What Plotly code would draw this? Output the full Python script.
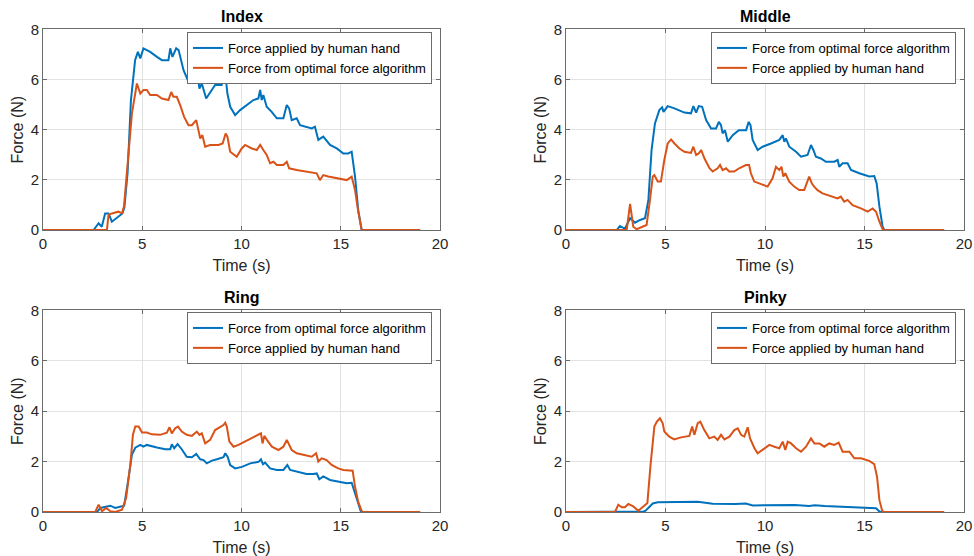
import plotly.graph_objects as go

# ---------------- data (time s, force N) ----------------
index_human = [(0,0),(2.55,0),(2.8,0.27),(2.96,0.13),(3.13,0.66),(3.3,0.66),(3.47,0.33),(3.8,0.53),(4.0,0.66),(4.1,0.9),
    (4.26,2.26),(4.43,5.18),(4.64,6.77),(4.78,7.1),(4.9,6.84),(5.06,7.24),(5.4,7.1),(5.74,6.9),(5.99,6.77),(6.32,6.77),
    (6.41,7.24),(6.52,6.9),(6.71,7.24),(6.83,7.17),(7.08,6.37),(7.33,5.91),(7.5,5.91),(7.67,6.18),(7.78,6.24),(7.88,5.64),
    (8.0,5.84),(8.22,5.24),(8.42,5.5),(8.67,5.78),(9.0,5.78),(9.12,6.24),(9.2,6.1),(9.29,5.44),(9.43,4.91),(9.68,4.58),
    (9.93,4.78),(10.27,4.98),(10.6,5.18),(10.85,5.24),(10.94,5.58),(11.02,5.18),(11.1,5.38),(11.27,4.91),(11.52,4.71),
    (11.78,4.45),(12.11,4.45),(12.28,4.98),(12.4,4.85),(12.53,4.38),(12.78,4.45),(12.95,4.18),(13.54,4.05),(13.7,4.12),
    (13.87,3.59),(14.12,3.72),(14.46,3.39),(14.8,3.25),(15.13,3.05),(15.38,3.05),(15.55,3.12),(15.72,2.13),(15.88,0.8),
    (16.05,0.0),(19,0)]
index_algo = [(0,0),(3.22,0),(3.3,0.6),(3.47,0.66),(3.8,0.73),(3.97,0.66),(4.08,0.93),(4.26,2.52),(4.48,4.65),(4.73,5.84),
    (4.9,5.44),(5.06,5.58),(5.23,5.58),(5.4,5.38),(5.74,5.38),(5.99,5.24),(6.32,5.18),(6.46,5.5),(6.57,5.31),(6.74,5.31),
    (6.91,4.98),(7.11,4.51),(7.33,4.18),(7.5,4.18),(7.72,4.38),(7.83,3.98),(7.92,3.65),(8.03,3.78),(8.17,3.32),(8.42,3.39),
    (8.84,3.39),(9.05,3.45),(9.2,3.85),(9.29,3.72),(9.43,3.12),(9.76,2.92),(10.01,3.25),(10.18,3.39),(10.52,3.25),
    (10.77,3.19),(10.94,3.39),(11.1,3.19),(11.27,2.99),(11.44,2.66),(11.61,2.72),(11.78,2.59),(12.11,2.59),(12.28,2.72),
    (12.4,2.46),(12.78,2.39),(13.28,2.33),(13.79,2.26),(13.95,1.99),(14.12,2.19),(14.37,2.13),(14.8,2.06),(15.3,1.99),
    (15.55,2.13),(15.72,1.59),(15.88,0.73),(16.05,0.03),(16.1,0),(19,0)]

middle_algo = [(0,0),(2.55,0),(2.71,0.16),(2.96,0.05),(3.22,0.47),(3.47,0.29),(3.72,0.4),(3.97,0.47),(4.14,1.2),(4.3,3.19),
    (4.47,4.25),(4.69,4.78),(4.83,4.89),(4.9,4.71),(5.11,4.94),(5.45,4.85),(5.95,4.68),(6.28,4.65),(6.4,4.94),(6.54,4.68),
    (6.67,4.94),(6.84,4.91),(7.04,4.38),(7.29,4.05),(7.54,4.05),(7.68,4.31),(7.79,4.18),(7.87,3.85),(7.99,3.98),(8.13,3.52),
    (8.38,3.78),(8.68,3.98),(9.05,3.98),(9.18,4.31),(9.27,4.18),(9.38,3.59),(9.63,3.19),(9.88,3.32),(10.3,3.45),(10.72,3.59),
    (10.89,3.78),(10.97,3.52),(11.05,3.65),(11.22,3.32),(11.56,3.12),(11.81,2.92),(12.14,2.99),(12.31,3.39),(12.43,3.19),
    (12.56,2.92),(12.81,2.85),(13.06,2.72),(13.48,2.72),(13.65,2.79),(13.73,2.52),(13.9,2.66),(14.15,2.66),(14.32,2.39),
    (14.74,2.26),(15.24,2.13),(15.49,2.15),(15.61,1.86),(15.75,0.93),(15.91,0.13),(16.0,0),(19,0)]
middle_human = [(0,0),(3.05,0),(3.22,1.04),(3.38,0.13),(3.55,0.03),(3.89,0.13),(4.05,0.2),(4.22,1.2),(4.36,2.13),(4.44,2.19),
    (4.61,1.93),(4.77,1.93),(4.94,2.79),(5.11,3.45),(5.28,3.61),(5.45,3.45),(5.7,3.25),(5.95,3.12),(6.28,3.07),(6.4,3.32),
    (6.54,2.99),(6.67,3.05),(6.79,3.19),(6.96,2.85),(7.21,2.46),(7.37,2.33),(7.62,2.46),(7.74,2.59),(7.87,2.39),(8.04,2.46),
    (8.2,2.33),(8.45,2.33),(8.7,2.46),(9.04,2.59),(9.2,2.59),(9.29,2.26),(9.46,1.93),(9.71,1.86),(9.96,1.79),(10.13,1.73),
    (10.38,2.06),(10.55,2.52),(10.72,2.39),(10.83,2.52),(10.92,2.13),(11.02,2.26),(11.22,1.93),(11.47,1.73),(11.72,1.59),
    (11.97,1.59),(12.22,2.13),(12.35,1.86),(12.47,1.73),(12.64,1.59),(12.89,1.46),(13.39,1.33),(13.65,1.26),(13.81,1.33),
    (13.98,1.13),(14.15,1.2),(14.4,0.99),(14.82,0.86),(15.16,0.73),(15.41,0.86),(15.58,0.73),(15.75,0.33),(15.91,0.03),
    (16.0,0),(19,0)]

ring_algo = [(0,0),(2.72,0),(2.89,0.16),(3.14,0.22),(3.39,0.25),(3.64,0.16),(3.89,0.22),(4.09,0.25),(4.31,1.35),(4.48,2.28),
    (4.65,2.55),(4.73,2.59),(4.9,2.66),(5.06,2.59),(5.23,2.66),(5.74,2.56),(6.16,2.49),(6.41,2.49),(6.49,2.69),(6.61,2.53),
    (6.78,2.69),(6.99,2.49),(7.24,2.19),(7.5,2.17),(7.72,2.3),(7.92,2.09),(8.09,2.06),(8.25,1.93),(8.51,2.04),(8.76,2.09),
    (9.09,2.17),(9.18,2.33),(9.3,2.19),(9.43,1.86),(9.68,1.73),(10.02,1.79),(10.44,1.93),(10.86,1.99),(10.98,2.09),
    (11.08,1.9),(11.19,1.96),(11.44,1.73),(11.78,1.67),(12.11,1.67),(12.31,1.86),(12.45,1.67),(12.78,1.6),(13.28,1.51),
    (13.62,1.51),(13.79,1.53),(13.92,1.3),(14.12,1.41),(14.46,1.27),(14.96,1.2),(15.3,1.14),(15.55,1.16),(15.72,0.74),
    (15.88,0.28),(16.0,0.05),(16.05,0),(19,0)]
ring_human = [(0,0),(2.63,0),(2.8,0.29),(2.97,0.03),(3.19,0.16),(3.39,0.03),(3.64,0),(3.98,0.09),(4.19,0.56),(4.4,1.88),
    (4.53,3.07),(4.65,3.39),(4.82,3.39),(4.99,3.15),(5.23,3.15),(5.48,3.08),(5.9,3.06),(6.24,3.15),(6.37,3.36),(6.49,3.12),
    (6.66,3.32),(6.8,3.39),(6.99,3.19),(7.24,3.06),(7.5,3.02),(7.75,3.19),(7.88,3.06),(8.0,3.12),(8.17,2.72),(8.42,2.86),
    (8.67,3.25),(8.92,3.39),(9.09,3.45),(9.18,3.54),(9.26,3.39),(9.39,2.79),(9.6,2.59),(9.85,2.66),(10.18,2.79),(10.52,2.92),
    (10.86,3.06),(10.98,3.12),(11.06,2.72),(11.15,3.02),(11.28,2.86),(11.53,2.59),(11.86,2.46),(12.11,2.59),(12.28,2.86),
    (12.4,2.66),(12.53,2.46),(12.78,2.33),(13.12,2.26),(13.54,2.19),(13.76,2.33),(13.87,2.0),(14.04,2.13),(14.29,2.06),
    (14.54,1.87),(14.87,1.73),(15.13,1.67),(15.46,1.64),(15.6,1.64),(15.72,1.0),(15.88,0.4),(16.05,0.05),(16.1,0),(19,0)]

pinky_algo = [(0,0),(2.5,0),(2.6,0.02),(3.9,0.02),(4.0,0.05),(4.2,0.2),(4.36,0.34),(4.61,0.39),(5.7,0.39),(6.62,0.41),
    (7.0,0.37),(7.37,0.33),(8.5,0.32),(9.04,0.34),(9.38,0.26),(10.0,0.27),(10.72,0.28),(11.5,0.28),(12.22,0.24),(12.5,0.27),
    (13.0,0.24),(14.07,0.2),(15.0,0.18),(15.58,0.15),(15.75,0.02),(15.85,0),(19,0)]
pinky_human = [(0,0),(2.46,0),(2.63,0.29),(2.8,0.19),(2.96,0.19),(3.13,0.32),(3.38,0.22),(3.63,0.05),(3.89,0.22),(4.09,0.36),
    (4.25,1.88),(4.39,2.94),(4.44,3.39),(4.56,3.58),(4.72,3.72),(4.86,3.52),(4.94,3.19),(5.19,2.99),(5.44,2.88),(5.78,2.96),
    (6.2,3.02),(6.34,3.39),(6.45,3.06),(6.62,3.52),(6.75,3.58),(6.95,3.25),(7.2,2.92),(7.45,2.99),(7.62,2.86),(7.79,3.06),
    (7.96,2.88),(8.21,2.99),(8.46,3.25),(8.63,3.32),(8.8,3.06),(8.96,2.99),(9.13,3.36),(9.25,2.92),(9.47,2.53),(9.63,2.33),
    (9.88,2.46),(10.22,2.66),(10.47,2.59),(10.72,2.53),(10.89,2.79),(11.02,2.46),(11.14,2.79),(11.31,2.72),(11.56,2.53),
    (11.81,2.39),(12.06,2.59),(12.31,2.92),(12.48,2.72),(12.73,2.72),(12.98,2.59),(13.23,2.72),(13.48,2.66),(13.7,2.75),
    (13.9,2.39),(14.24,2.39),(14.49,2.13),(14.82,2.13),(15.24,2.03),(15.49,1.9),(15.63,1.4),(15.75,0.47),(15.88,0.08),
    (15.95,0),(19,0)]

panel_titles = ["Index", "Middle", "Ring", "Pinky"]
label_human = "Force applied by human hand"
label_algo = "Force from optimal force algorithm"
x_ticks = [0, 5, 10, 15, 20]
y_ticks = [0, 2, 4, 6, 8]

# ---------------- styling ----------------
BLUE = "#0072BD"
ORANGE = "#D95319"
FONT = "Liberation Sans, Arial, Helvetica, sans-serif"
W, H = 974, 556

xdom = [[43/W, 440/W], [566/W, 964/W]]
ydom = [[1-230/H, 1-29.3/H], [1-512/H, 1-310.3/H]]

panels = [
    [(index_human, label_human, BLUE), (index_algo, label_algo, ORANGE)],
    [(middle_algo, label_algo, BLUE), (middle_human, label_human, ORANGE)],
    [(ring_algo, label_algo, BLUE), (ring_human, label_human, ORANGE)],
    [(pinky_algo, label_algo, BLUE), (pinky_human, label_human, ORANGE)],
]

fig = go.Figure()
layout = dict(
    width=W, height=H, margin=dict(l=0, r=0, t=0, b=0, pad=0, autoexpand=False),
    paper_bgcolor="white", plot_bgcolor="white",
    font=dict(family=FONT, color="#262626"),
    annotations=[],
)

legend_pos = [(432, 32), (956, 32), (432, 312), (956, 312)]

for i, series in enumerate(panels):
    row, col = divmod(i, 2)
    n = "" if i == 0 else str(i + 1)
    legname = "legend" + n
    for data, label, color in series:
        t = [p[0] for p in data]
        f = [p[1] for p in data]
        fig.add_trace(go.Scatter(
            x=t, y=f, mode="lines", name=label,
            line=dict(color=color, width=2),
            xaxis="x" + n, yaxis="y" + n, legend=legname,
        ))
    axcommon = dict(
        showline=True, linecolor="#6b6b6b", linewidth=1, mirror="ticks",
        ticks="inside", ticklen=4, tickcolor="#6b6b6b",
        showgrid=True, gridcolor="#e2e2e2", gridwidth=1,
        zeroline=False, tickfont=dict(size=15, color="#262626"),
        title_font=dict(size=16, color="#262626"), automargin=False,
    )
    layout["xaxis" + n] = dict(
        axcommon, domain=xdom[col], range=[0, 20], tickvals=x_ticks,
        anchor="y" + n, title=dict(text="Time (s)", standoff=8),
    )
    layout["yaxis" + n] = dict(
        axcommon, domain=ydom[row], range=[0, 8], tickvals=y_ticks,
        anchor="x" + n, title=dict(text="Force (N)", standoff=3),
    )
    lx, ly = legend_pos[i]
    layout[legname] = dict(
        x=lx / W, y=1 - ly / H, xanchor="right", yanchor="top",
        bgcolor="white", bordercolor="#6b6b6b", borderwidth=1,
        font=dict(size=13, color="#000000"), tracegroupgap=0,
    )
    cx = (xdom[col][0] + xdom[col][1]) / 2
    ty = [16, 297][row]
    layout["annotations"].append(dict(
        text="<b>" + panel_titles[i] + "</b>", x=cx, y=1 - ty / H,
        xref="paper", yref="paper", xanchor="center", yanchor="middle",
        showarrow=False, font=dict(size=16, color="#000000"),
    ))

fig.update_layout(**layout)
fig.write_html("out.html")
